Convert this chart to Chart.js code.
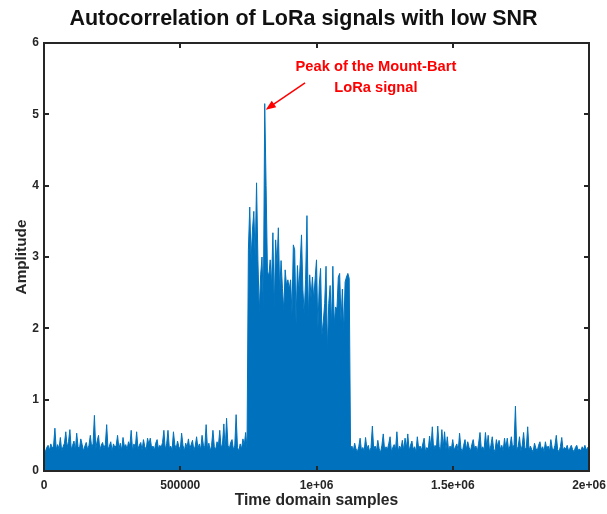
<!DOCTYPE html>
<html>
<head>
<meta charset="utf-8">
<title>Autocorrelation of LoRa signals with low SNR</title>
<script src="https://cdn.jsdelivr.net/npm/chart.js@4.4.1/dist/chart.umd.min.js"></script>
<style>
  html, body { margin: 0; padding: 0; background: #fff; }
</style>
</head>
<body>
<canvas id="acf" width="607" height="514"></canvas>
<script>
// sample spacing of the stored autocorrelation magnitudes
const step = 5000;

// noise floor before the packet, x = 0 .. 745000
const noiseBefore = [
  0.31, 0.27, 0.33, 0.36, 0.29, 0.38, 0.32, 0.35, 0.60, 0.30,
  0.37, 0.31, 0.47, 0.28, 0.34, 0.39, 0.55, 0.33, 0.41, 0.58,
  0.30, 0.36, 0.42, 0.29, 0.53, 0.34, 0.31, 0.45, 0.37, 0.28,
  0.35, 0.40, 0.30, 0.36, 0.50, 0.33, 0.38, 0.78, 0.31, 0.42,
  0.50, 0.29, 0.36, 0.40, 0.32, 0.37, 0.65, 0.30, 0.35, 0.41,
  0.28, 0.38, 0.33, 0.36, 0.50, 0.31, 0.39, 0.29, 0.47, 0.34,
  0.37, 0.30, 0.41, 0.35, 0.57, 0.28, 0.38, 0.33, 0.55, 0.31,
  0.36, 0.40, 0.29, 0.44, 0.34, 0.30, 0.46, 0.37, 0.46, 0.32,
  0.35, 0.29, 0.39, 0.44, 0.31, 0.36, 0.33, 0.40, 0.57, 0.30,
  0.38, 0.57, 0.32, 0.35, 0.29, 0.55, 0.37, 0.31, 0.42, 0.34,
  0.30, 0.53, 0.36, 0.28, 0.39, 0.33, 0.45, 0.31, 0.37, 0.43,
  0.29, 0.35, 0.48, 0.32, 0.38, 0.30, 0.50, 0.36, 0.33, 0.65,
  0.31, 0.39, 0.28, 0.36, 0.57, 0.34, 0.30, 0.41, 0.35, 0.57,
  0.32, 0.38, 0.66, 0.29, 0.74, 0.36, 0.31, 0.40, 0.44, 0.30,
  0.35, 0.79, 0.33, 0.28, 0.38, 0.31, 0.45, 0.36, 0.54, 0.32
];

// LoRa packet, x = 750000 .. 1120000
const burstStart = 750000;
const loraBurst = [
  3.10, 3.70, 2.96, 3.38, 3.64, 3.00, 4.04, 2.96, 2.22, 2.75,
  3.00, 2.30, 5.15, 4.00, 2.80, 2.73, 2.96, 2.60, 3.34, 2.28,
  3.24, 2.88, 3.41, 2.50, 2.95, 2.56, 2.25, 2.82, 2.60, 2.68,
  2.55, 2.68, 2.20, 3.17, 3.10, 2.07, 2.88, 2.50, 2.90, 3.31,
  2.54, 2.20, 2.68, 3.58, 2.16, 2.75, 2.42, 2.72, 2.40, 2.70,
  2.96, 1.98, 2.60, 2.84, 1.90, 2.10, 2.35, 2.87, 1.70, 2.35,
  2.60, 2.05, 2.87, 2.05, 2.30, 2.27, 2.72, 2.77, 2.10, 2.55,
  1.95, 2.65, 2.72, 2.77, 2.70
];

// noise floor after the packet, x = 1125000 .. 2000000
const tailStart = 1125000;
const noiseAfter = [
  0.30, 0.35, 0.28, 0.39, 0.31, 0.27, 0.34, 0.46, 0.29, 0.33,
  0.28, 0.47, 0.31, 0.36, 0.27, 0.33, 0.63, 0.30, 0.35, 0.28,
  0.43, 0.31, 0.26, 0.36, 0.52, 0.29, 0.34, 0.30, 0.38, 0.48,
  0.27, 0.33, 0.37, 0.30, 0.55, 0.28, 0.35, 0.31, 0.43, 0.29,
  0.46, 0.32, 0.52, 0.28, 0.36, 0.42, 0.30, 0.34, 0.27, 0.48,
  0.31, 0.35, 0.29, 0.38, 0.46, 0.27, 0.33, 0.30, 0.49, 0.32,
  0.62, 0.29, 0.36, 0.31, 0.63, 0.34, 0.28, 0.58, 0.33, 0.55,
  0.30, 0.48, 0.27, 0.35, 0.31, 0.44, 0.29, 0.34, 0.38, 0.28,
  0.53, 0.32, 0.27, 0.36, 0.44, 0.30, 0.41, 0.33, 0.28, 0.37,
  0.44, 0.31, 0.35, 0.27, 0.39, 0.54, 0.30, 0.34, 0.29, 0.54,
  0.33, 0.50, 0.28, 0.36, 0.48, 0.31, 0.27, 0.44, 0.34, 0.43,
  0.30, 0.36, 0.28, 0.46, 0.32, 0.46, 0.29, 0.35, 0.48, 0.31,
  0.37, 0.91, 0.30, 0.34, 0.48, 0.28, 0.36, 0.54, 0.31, 0.33,
  0.62, 0.29, 0.35, 0.30, 0.27, 0.39, 0.32, 0.28, 0.36, 0.41,
  0.30, 0.34, 0.27, 0.41, 0.31, 0.35, 0.28, 0.44, 0.32, 0.29,
  0.36, 0.50, 0.30, 0.27, 0.34, 0.47, 0.29, 0.33, 0.31, 0.36,
  0.28, 0.32, 0.36, 0.30, 0.27, 0.33, 0.36, 0.29, 0.31, 0.28,
  0.34, 0.30, 0.36, 0.29, 0.33, 0.30
];

const xTickValues = [0, 500000, 1000000, 1500000, 2000000];
const xTickLabels = ['0', '500000', '1e+06', '1.5e+06', '2e+06'];
const yTickValues = [0, 1, 2, 3, 4, 5, 6];
const yTickLabels = ['0', '1', '2', '3', '4', '5', '6'];

const peakNote = ['Peak of the Mount-Bart', 'LoRa signal'];

const FONT = '"Liberation Sans", Arial, Helvetica, sans-serif';
const BLUE = '#0072BD';
const AXIS = '#262626';

function toPoints(values, x0) {
  return values.map((v, i) => ({ x: x0 + i * step, y: v }));
}

const points = [
  ...toPoints(noiseBefore, 0),
  ...toPoints(loraBurst, burstStart),
  ...toPoints(noiseAfter, tailStart)
];

// position of the strongest correlation peak
const peakIdx = loraBurst.indexOf(Math.max(...loraBurst));
const peak = { x: burstStart + peakIdx * step, y: loraBurst[peakIdx] };

// MATLAB-like box with inward ticks on every side, plus the peak callout
const axesBox = {
  id: 'axesBox',
  afterDraw(chart) {
    const { ctx, chartArea: a, scales: { x, y } } = chart;
    const tick = 5;
    ctx.save();
    ctx.strokeStyle = AXIS;
    ctx.lineWidth = 2;
    ctx.beginPath();
    xTickValues.forEach(v => {
      const px = Math.round(x.getPixelForValue(v));
      ctx.moveTo(px, a.bottom); ctx.lineTo(px, a.bottom - tick);
      ctx.moveTo(px, a.top); ctx.lineTo(px, a.top + tick);
    });
    yTickValues.forEach(v => {
      const py = Math.round(y.getPixelForValue(v));
      ctx.moveTo(a.left, py); ctx.lineTo(a.left + tick, py);
      ctx.moveTo(a.right, py); ctx.lineTo(a.right - tick, py);
    });
    ctx.stroke();
    ctx.strokeRect(a.left, a.top, a.right - a.left, a.bottom - a.top);

    // arrow pointing at the peak
    const tipX = x.getPixelForValue(peak.x) + 1;
    const tipY = y.getPixelForValue(peak.y) + 6;
    const tailX = x.getPixelForValue(958000);
    const tailY = y.getPixelForValue(5.44);
    const ang = Math.atan2(tipY - tailY, tipX - tailX);
    const headLen = 10, headW = 4;
    ctx.strokeStyle = '#FF0000';
    ctx.fillStyle = '#FF0000';
    ctx.lineWidth = 1.5;
    ctx.beginPath();
    ctx.moveTo(tailX, tailY);
    ctx.lineTo(tipX - Math.cos(ang) * headLen * 0.8, tipY - Math.sin(ang) * headLen * 0.8);
    ctx.stroke();
    ctx.beginPath();
    ctx.moveTo(tipX, tipY);
    ctx.lineTo(tipX - Math.cos(ang) * headLen - Math.sin(ang) * headW,
               tipY - Math.sin(ang) * headLen + Math.cos(ang) * headW);
    ctx.lineTo(tipX - Math.cos(ang) * headLen + Math.sin(ang) * headW,
               tipY - Math.sin(ang) * headLen - Math.cos(ang) * headW);
    ctx.closePath();
    ctx.fill();

    ctx.font = 'bold 14.7px ' + FONT;
    ctx.textAlign = 'center';
    ctx.textBaseline = 'middle';
    const noteX = x.getPixelForValue(1218000);
    ctx.fillText(peakNote[0], noteX, y.getPixelForValue(5.67));
    ctx.fillText(peakNote[1], noteX, y.getPixelForValue(5.37));
    ctx.restore();
  }
};

new Chart(document.getElementById('acf'), {
  type: 'line',
  data: {
    datasets: [{
      data: points,
      borderColor: BLUE,
      backgroundColor: BLUE,
      borderWidth: 1,
      pointRadius: 0,
      tension: 0,
      fill: 'origin'
    }]
  },
  options: {
    responsive: false,
    devicePixelRatio: 1,
    animation: false,
    layout: { padding: 0 },
    plugins: {
      legend: { display: false },
      tooltip: { enabled: false },
      title: {
        display: true,
        text: 'Autocorrelation of LoRa signals with low SNR',
        color: '#111',
        font: { family: FONT, size: 21.5, weight: 'bold', lineHeight: 1.2 },
        padding: { top: 6, bottom: 11.2 }
      }
    },
    scales: {
      x: {
        type: 'linear',
        min: 0,
        max: 2000000,
        grid: { display: false, drawTicks: false },
        border: { display: false },
        afterBuildTicks: s => { s.ticks = xTickValues.map(v => ({ value: v })); },
        afterFit: s => { s.height = 43; s.paddingRight = 18; },
        ticks: {
          autoSkip: false,
          maxRotation: 0,
          padding: 7,
          color: AXIS,
          font: { family: FONT, size: 12, weight: 'bold' },
          callback: (v, i) => xTickLabels[i]
        },
        title: {
          display: true,
          text: 'Time domain samples',
          color: AXIS,
          font: { family: FONT, size: 15.7, weight: 'bold', lineHeight: 1.2 },
          padding: { top: 0, bottom: 4 }
        }
      },
      y: {
        min: 0,
        max: 6,
        grid: { display: false, drawTicks: false },
        border: { display: false },
        afterBuildTicks: s => { s.ticks = yTickValues.map(v => ({ value: v })); },
        afterFit: s => { s.width = 44; },
        ticks: {
          autoSkip: false,
          padding: 5,
          color: AXIS,
          font: { family: FONT, size: 12, weight: 'bold' },
          callback: (v, i) => yTickLabels[i]
        },
        title: {
          display: true,
          text: 'Amplitude',
          color: AXIS,
          font: { family: FONT, size: 15.3, weight: 'bold', lineHeight: 1.2 },
          padding: { top: 13, bottom: 0 }
        }
      }
    }
  },
  plugins: [axesBox]
});
</script>
</body>
</html>
